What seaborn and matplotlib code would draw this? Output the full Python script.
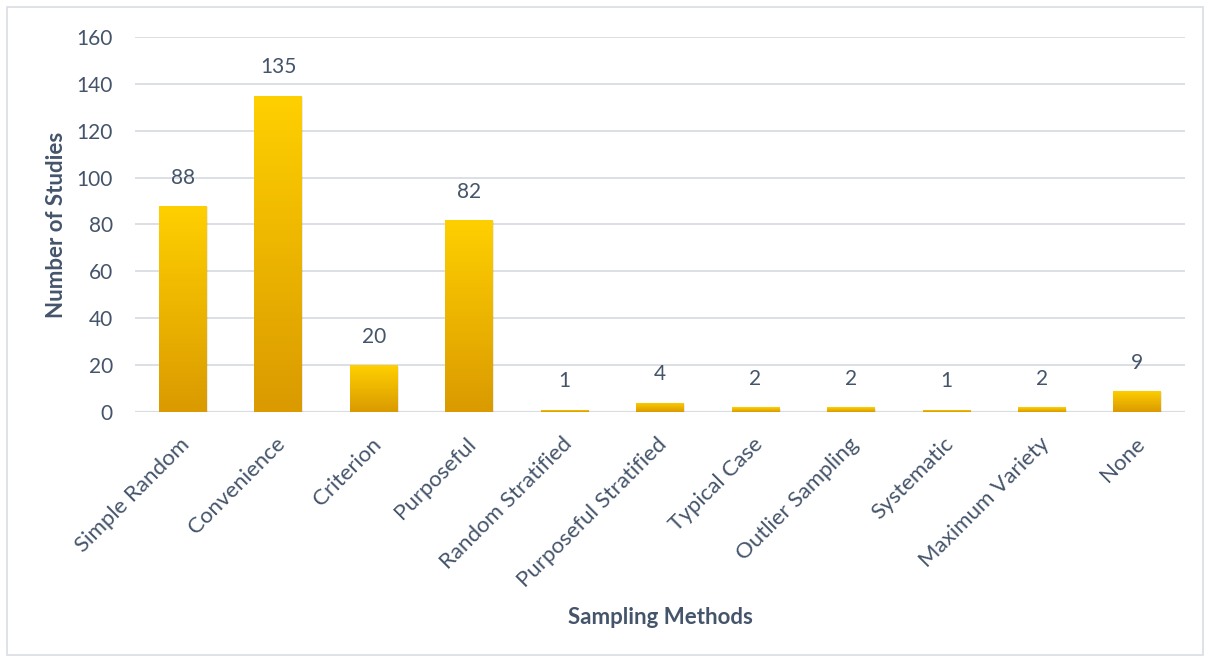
import numpy as np
import pandas as pd
import matplotlib
matplotlib.use("Agg")
import matplotlib.pyplot as plt
from matplotlib.colors import LinearSegmentedColormap
from matplotlib.patches import Rectangle
from matplotlib.transforms import ScaledTranslation
import seaborn as sns

methods = ["Simple Random", "Convenience", "Criterion", "Purposeful",
           "Random Stratified", "Purposeful Stratified", "Typical Case",
           "Outlier Sampling", "Systematic", "Maximum Variety", "None"]
studies = [88, 135, 20, 82, 1, 4, 2, 2, 1, 2, 9]
y_ticks = [0, 20, 40, 60, 80, 100, 120, 140, 160]

df = pd.DataFrame({"method": methods, "studies": studies})

sns.set_theme(style="white")
plt.rcParams["font.family"] = ["Lato", "DejaVu Sans"]
text_color = "#44546A"
grid_color = "#D9DCE1"

fig = plt.figure(figsize=(12.06, 6.57), dpi=100)
ax = fig.add_axes([0.112, 0.373, 0.8706, 0.5707])

sns.barplot(data=df, x="method", y="studies", color="#F5BE00",
            width=0.5, ax=ax, zorder=3)

ax.set_ylim(0, 160)
ax.set_xlim(-0.5, len(methods) - 0.5)
ax.set_yticks(y_ticks)
ax.yaxis.grid(True, color=grid_color, linewidth=1.3, zorder=0)
ax.set_axisbelow(True)
for s in ax.spines.values():
    s.set_visible(False)
ax.axhline(0, color=grid_color, linewidth=1.6, zorder=2)

# vertical gold gradient on every bar, lighter at the top
cmap = LinearSegmentedColormap.from_list("gold", ["#DA9A00", "#FFD000"])
grad = np.linspace(0, 1, 256).reshape(-1, 1)
for bar in list(ax.patches):
    x0, w, h = bar.get_x(), bar.get_width(), bar.get_height()
    # soft shadow behind the bar
    shadow = Rectangle((x0 + 0.012, -0.7), w, h, facecolor="#000000",
                       alpha=0.08, edgecolor="none", zorder=2.5)
    ax.add_patch(shadow)
    im = ax.imshow(grad, cmap=cmap, origin="lower", aspect="auto",
                   extent=(x0, x0 + w, 0, h), zorder=3.5)
    im.set_clip_path(bar)
    bar.set_edgecolor("none")

for i, v in enumerate(studies):
    ax.text(i, v + 12, str(v), ha="center", va="center",
            fontsize=15, color=text_color)

ax.tick_params(axis="y", labelsize=15, labelcolor=text_color, length=0, pad=16)
ax.tick_params(axis="x", labelsize=16, labelcolor=text_color, length=0, pad=0)
shift = ScaledTranslation(-0.03, -0.22, fig.dpi_scale_trans)
for lab in ax.get_xticklabels():
    lab.set_rotation(45)
    lab.set_ha("right")
    lab.set_rotation_mode("anchor")
    lab.set_transform(lab.get_transform() + shift)

ax.set_xlabel("Sampling Methods", fontsize=16, fontweight="bold",
              color=text_color)
ax.set_ylabel("Number of Studies", fontsize=16, fontweight="bold",
              color=text_color)
ax.xaxis.set_label_coords(0.5, -0.52)
ax.yaxis.set_label_coords(-0.065, 0.5)

# light frame around the chart
fig.patches.append(Rectangle((7 / 1206, 2 / 657), 1196 / 1206, 648 / 657,
                             transform=fig.transFigure, fill=False,
                             edgecolor="#D9DDE3", linewidth=1.2))

fig.savefig("out.png", dpi=100)
